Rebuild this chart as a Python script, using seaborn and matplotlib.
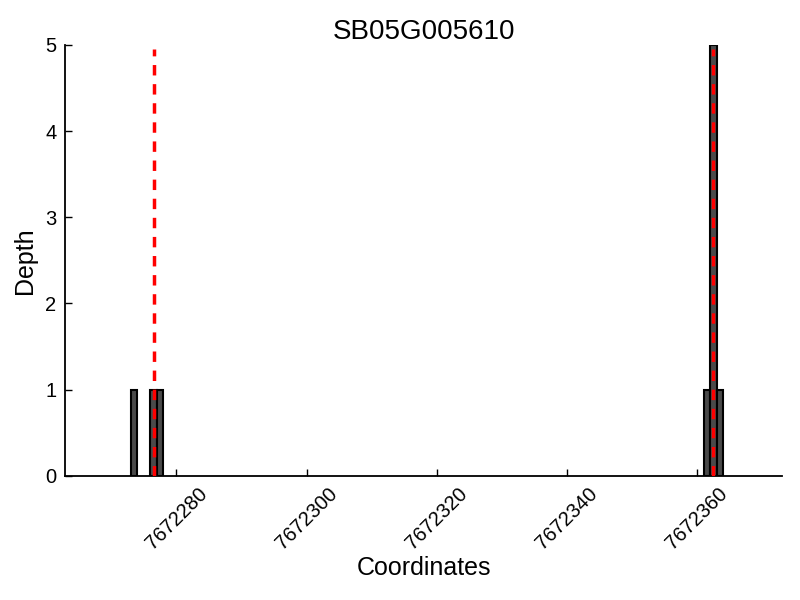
import numpy as np
import pandas as pd
import matplotlib
matplotlib.use("Agg")
import matplotlib.pyplot as plt
import seaborn as sns

# Data
coords = [7672273, 7672276, 7672277, 7672361, 7672362, 7672363]   # bin left edges
depths = [1, 1, 1, 1, 5, 1]
markers = [7672276.5, 7672362.5]
title = "SB05G005610"
xticks = [7672280, 7672300, 7672320, 7672340, 7672360]

sns.set_style("ticks", {"xtick.direction": "in", "ytick.direction": "in"})
plt.rcParams['font.family'] = ['Liberation Sans', 'DejaVu Sans']
plt.rcParams.update({"text.color": "black", "axes.labelcolor": "black",
                     "xtick.color": "black", "ytick.color": "black",
                     "axes.edgecolor": "black"})

fig = plt.figure(figsize=(8, 6), dpi=100)
ax = fig.add_axes([0.081, 0.207, 0.897, 0.718])

df = pd.DataFrame({"coord": np.array(coords) + 0.5, "depth": depths})
sns.histplot(data=df, x="coord", weights="depth", binwidth=1,
             binrange=(min(coords), max(coords) + 1), ax=ax,
             color="#4a4a4a", alpha=1.0, edgecolor="black", linewidth=1.5)
# remove empty bins
for p in ax.patches:
    if p.get_height() == 0:
        p.set_visible(False)

ax.vlines(markers, 0, 4.95, colors="red", linestyles=(0, (3, 2.5)), linewidth=2.5, zorder=5)

ax.set_xlim(7672262.85, 7672373.1)
ax.set_ylim(0, 5)
ax.set_xticks(xticks)
ax.set_xticklabels([str(t) for t in xticks], rotation=45)
ax.set_yticks(range(0, 6))
ax.tick_params(direction="in", labelsize=14.5, length=5, width=1, pad=6)
sns.despine(ax=ax)
for s in ax.spines.values():
    s.set_linewidth(1.3)
ax.set_xlabel("Coordinates", fontsize=18, labelpad=2)
ax.set_ylabel("Depth", fontsize=18, labelpad=6)
ax.set_title(title, fontsize=20, pad=4)

fig.savefig("out.png", dpi=100)
